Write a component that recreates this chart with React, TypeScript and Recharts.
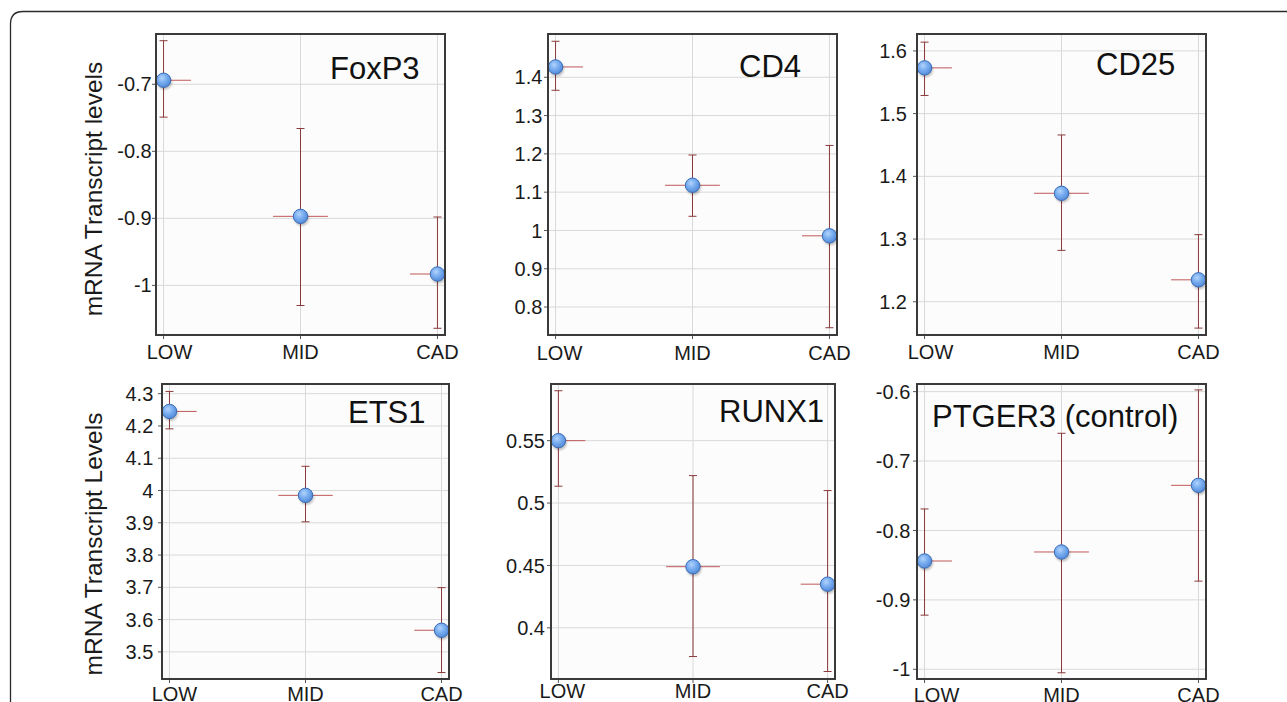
import React from 'react';
import { ScatterChart, Scatter, XAxis, YAxis, CartesianGrid, ErrorBar } from 'recharts';

// ---------- data ----------
const categories = ['LOW', 'MID', 'CAD'];

const foxp3Mean = [-0.694, -0.897, -0.983];
const foxp3ErrDown = [0.055, 0.133, 0.081];
const foxp3ErrUp = [0.059, 0.131, 0.085];
const foxp3Ticks = [-1, -0.9, -0.8, -0.7];

const cd4Mean = [1.427, 1.118, 0.986];
const cd4ErrDown = [0.061, 0.081, 0.24];
const cd4ErrUp = [0.067, 0.079, 0.236];
const cd4Ticks = [0.8, 0.9, 1, 1.1, 1.2, 1.3, 1.4];

const cd25Mean = [1.573, 1.373, 1.235];
const cd25ErrDown = [0.044, 0.091, 0.077];
const cd25ErrUp = [0.041, 0.093, 0.072];
const cd25Ticks = [1.2, 1.3, 1.4, 1.5, 1.6];

const ets1Mean = [4.245, 3.985, 3.567];
const ets1ErrDown = [0.054, 0.082, 0.131];
const ets1ErrUp = [0.062, 0.09, 0.132];
const ets1Ticks = [3.5, 3.6, 3.7, 3.8, 3.9, 4, 4.1, 4.2, 4.3];

const runx1Mean = [0.55, 0.449, 0.435];
const runx1ErrDown = [0.0365, 0.072, 0.07];
const runx1ErrUp = [0.04, 0.073, 0.075];
const runx1Ticks = [0.4, 0.45, 0.5, 0.55];

const ptger3Mean = [-0.844, -0.831, -0.735];
const ptger3ErrDown = [0.078, 0.174, 0.138];
const ptger3ErrUp = [0.075, 0.171, 0.1375];
const ptger3Ticks = [-1, -0.9, -0.8, -0.7, -0.6];

const titles = ['FoxP3', 'CD4', 'CD25', 'ETS1', 'RUNX1', 'PTGER3 (control)'];
const yLabels = ['mRNA Transcript levels', 'mRNA Transcript Levels'];

// horizontal half-width of the cross marker, in category units
const H_SPREAD = 0.2;
const X_MIN = -0.055;
const X_MAX = 2.055;

// horizontal arms are cut at the plot frame, as in the original
const build = (mean: number[], down: number[], up: number[]) =>
  categories.map((c, i) => ({
    x: i,
    cat: c,
    y: mean[i],
    ye: [down[i], up[i]],
    xe: [Math.min(H_SPREAD, i - X_MIN), Math.min(H_SPREAD, X_MAX - i)],
  }));

// ---------- layout ----------
const FONT = '"Liberation Sans", Arial, Helvetica, sans-serif';
const YW = 80;
const MT = 10;
const MR = 45;
const XH = 40;
const TICK = 4;

type Panel = {
  data: any[];
  domain: [number, number];
  ticks: number[];
  box: { x: number; y: number; w: number; h: number };
  yGap: number;
  xGap: number;
  lowDx: number;
  title: string;
  titleX: number;
  titleY: number;
};

const panels: Panel[] = [
  { data: build(foxp3Mean, foxp3ErrDown, foxp3ErrUp), domain: [-1.074, -0.625], ticks: foxp3Ticks,
    box: { x: 156, y: 34, w: 289, h: 301 }, yGap: 4.3, xGap: 10, lowDx: 6, title: titles[0], titleX: 330, titleY: 79 },
  { data: build(cd4Mean, cd4ErrDown, cd4ErrUp), domain: [0.727, 1.513], ticks: cd4Ticks,
    box: { x: 548, y: 34, w: 289, h: 301 }, yGap: 5.6, xGap: 11, lowDx: 4, title: titles[1], titleX: 739, titleY: 77 },
  { data: build(cd25Mean, cd25ErrDown, cd25ErrUp), domain: [1.147, 1.627], ticks: cd25Ticks,
    box: { x: 917, y: 34, w: 289, h: 301 }, yGap: 10, xGap: 10, lowDx: 6, title: titles[2], titleX: 1096, titleY: 75 },
  { data: build(ets1Mean, ets1ErrDown, ets1ErrUp), domain: [3.416, 4.33], ticks: ets1Ticks,
    box: { x: 162, y: 384, w: 287, h: 295 }, yGap: 8.7, xGap: 8, lowDx: 5, title: titles[3], titleX: 348, titleY: 423 },
  { data: build(runx1Mean, runx1ErrDown, runx1ErrUp), domain: [0.359, 0.5954], ticks: runx1Ticks,
    box: { x: 551, y: 384, w: 284, h: 295 }, yGap: 6, xGap: 4.5, lowDx: 4, title: titles[4], titleX: 719, titleY: 422 },
  { data: build(ptger3Mean, ptger3ErrDown, ptger3ErrUp), domain: [-1.014, -0.589], ticks: ptger3Ticks,
    box: { x: 917, y: 384, w: 289, h: 295 }, yGap: 6.7, xGap: 9, lowDx: 12, title: titles[5], titleX: 932, titleY: 427 },
];

const PointShape = (props: any) => {
  const { cx, cy } = props;
  if (cx == null || cy == null) return null;
  return (
    <g>
      <circle cx={cx + 1} cy={cy + 2} r={7.4} fill="rgba(0,0,0,0.25)" filter="url(#ptBlur)" />
      <circle cx={cx} cy={cy} r={7.2} fill="url(#ptGrad)" stroke="#3a6db8" strokeWidth={1} />
    </g>
  );
};

const makeXTick = (lowDx: number) => (props: any) => {
  const { x, y, payload } = props;
  const label = categories[payload.value] ?? '';
  return (
    <text x={x + (payload.value === 0 ? lowDx : 0)} y={y} dy="0.71em" textAnchor="middle"
      fontSize={20} fontFamily={FONT} fill="#1a1a1a">
      {label}
    </text>
  );
};

const PanelChart = ({ p }: { p: Panel }) => {
  const { box } = p;
  const left = box.x - YW;
  const top = box.y - MT;
  const width = box.w + YW + MR;
  const height = box.h + MT + XH;
  return (
    <div style={{ position: 'absolute', left, top, width, height }}>
      <ScatterChart width={width} height={height} margin={{ top: MT, right: MR, left: 0, bottom: 0 }}>
        <CartesianGrid stroke="#d9d9d9" strokeWidth={1} fill="#fcfcfc" />
        <XAxis
          type="number"
          dataKey="x"
          domain={[X_MIN, X_MAX]}
          ticks={[0, 1, 2]}
          allowDataOverflow
          height={XH}
          axisLine={false}
          tickLine={{ stroke: '#555', strokeWidth: 1 }}
          tickSize={TICK}
          tickMargin={Math.max(0, p.xGap - TICK)}
          interval={0}
          tick={makeXTick(p.lowDx)}
        />
        <YAxis
          type="number"
          dataKey="y"
          domain={p.domain}
          ticks={p.ticks}
          allowDataOverflow
          width={YW}
          axisLine={false}
          tickLine={{ stroke: '#555', strokeWidth: 1 }}
          tickSize={TICK}
          tickMargin={Math.max(0, p.yGap - TICK)}
          interval={0}
          tick={{ fontSize: 20, fontFamily: FONT, fill: '#1a1a1a' }}
          tickFormatter={(v: number) => String(v)}
        />
        <Scatter data={p.data} isAnimationActive={false} shape={PointShape}>
          <ErrorBar dataKey="xe" direction="x" width={0} stroke="#c05858" strokeWidth={1} isAnimationActive={false} />
          <ErrorBar dataKey="ye" direction="y" width={4} stroke="#8a3a3a" strokeWidth={1} isAnimationActive={false} />
        </Scatter>
      </ScatterChart>
    </div>
  );
};

export default function App() {
  return (
    <div style={{ position: 'absolute', left: 0, top: 0, width: 1287, height: 702, overflow: 'hidden', background: '#fff', fontFamily: FONT }}>
      {panels.map((p, i) => (
        <PanelChart key={i} p={p} />
      ))}
      <svg width={1287} height={702} style={{ position: 'absolute', left: 0, top: 0, pointerEvents: 'none' }}>
        <defs>
          <radialGradient id="ptGrad" cx="40%" cy="35%" r="70%">
            <stop offset="0%" stopColor="#b3d3fb" />
            <stop offset="45%" stopColor="#79aef0" />
            <stop offset="100%" stopColor="#4f86d6" />
          </radialGradient>
          <filter id="ptBlur" x="-50%" y="-50%" width="200%" height="200%">
            <feGaussianBlur stdDeviation="1.3" />
          </filter>
        </defs>
        <path d="M10.5 702 L10.5 24 Q10.5 11.5 23 11.5 L1287 11.5" fill="none" stroke="#2a2a2a" strokeWidth={1.3} />
        {panels.map((p, i) => (
          <rect key={'b' + i} x={p.box.x} y={p.box.y} width={p.box.w} height={p.box.h} fill="none" stroke="#3a3a3a" strokeWidth={2} />
        ))}
        {panels.map((p, i) => (
          <text key={'t' + i} x={p.titleX} y={p.titleY} fontSize={31} fontFamily={FONT} fill="#111">
            {p.title}
          </text>
        ))}
        <text x={102} y={189} transform="rotate(-90 102 189)" textAnchor="middle" fontSize={24.5} fontFamily={FONT} fill="#1a1a1a">
          {yLabels[0]}
        </text>
        <text x={102} y={544} transform="rotate(-90 102 544)" textAnchor="middle" fontSize={24.5} fontFamily={FONT} fill="#1a1a1a">
          {yLabels[1]}
        </text>
      </svg>
    </div>
  );
}
